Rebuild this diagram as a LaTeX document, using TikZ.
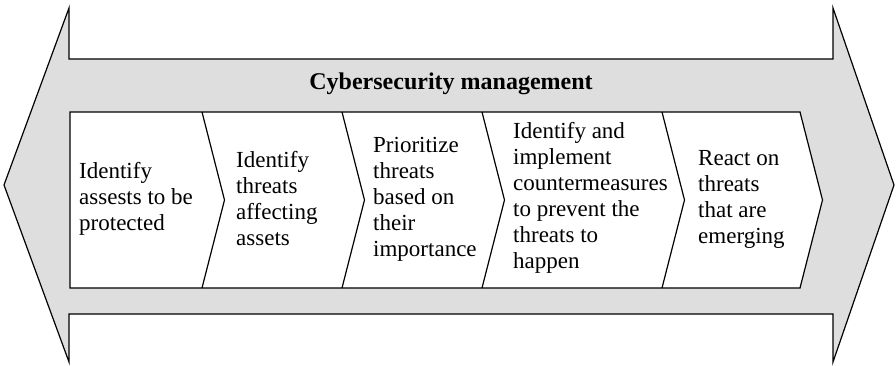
\documentclass[tikz,border=0pt]{standalone}
\usepackage{fontspec}
\setmainfont{Liberation Serif}
\definecolor{bandgray}{RGB}{222,222,222}
\begin{document}
\begin{tikzpicture}[x=1pt, y=-1pt, line join=miter,
 band/.style={draw, line width=1.2pt, fill=bandgray},
 lane/.style={draw, line width=1.2pt, fill=white},
 cut/.style={draw, line width=1.2pt},
 steptext/.style={anchor=west, align=left, inner sep=0pt, font=\fontsize{23}{26}\selectfont}]
\useasboundingbox (0,0) rectangle (896,366);
\draw[band] (4,185) -- (69,8) -- (69,59) -- (833,59) -- (833,8) -- (894,185)
 -- (833,362) -- (833,314) -- (69,314) -- (69,362) -- cycle;
\draw[lane] (70,112) -- (800,112) -- (822.5,200) -- (800,288) -- (70,288) -- cycle;
\foreach \x in {202,342,482,662}
 \draw[cut] (\x,112) -- (\x+22.5,200) -- (\x,288);
\node[font=\bfseries\fontsize{24}{26}\selectfont, inner sep=0pt] (title) at (451,84) {Cybersecurity management};
\node[steptext] (assets) at (79,199) {Identify\\assests to be\\protected};
\node[steptext] (threats) at (236,199) {Identify\\threats\\affecting\\assets};
\node[steptext] (prior) at (373,199) {Prioritize\\threats\\based on\\their\\importance};
\node[steptext] (counter) at (513,198) {Identify and\\implement\\countermeasures\\to prevent the\\threats to\\happen};
\node[steptext] (react) at (698,199) {React on\\threats\\that are\\emerging};
\end{tikzpicture}
\end{document}
